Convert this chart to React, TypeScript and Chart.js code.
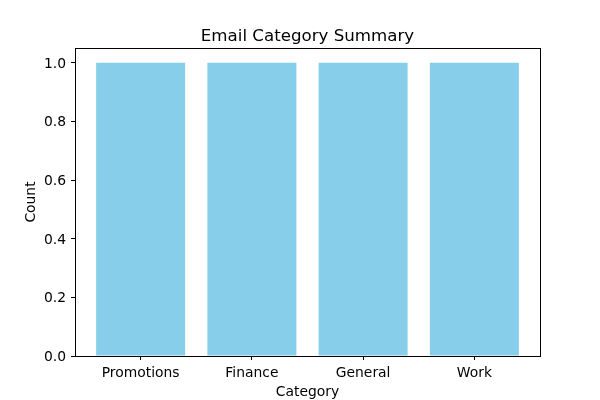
import React, { useEffect, useRef } from "react";
import { Chart, registerables } from "chart.js";

Chart.register(...registerables);

const categories = ["Promotions", "Finance", "General", "Work"];
const counts = [1, 1, 1, 1];
const yTicks = [0, 0.2, 0.4, 0.6, 0.8, 1.0];

const FONT = "'DejaVu Sans', sans-serif";

const framePlugin = {
  id: "frame",
  afterDraw(chart: any) {
    const { ctx, chartArea } = chart;
    const { left, top, right, bottom } = chartArea;
    ctx.save();
    ctx.strokeStyle = "#000";
    ctx.lineWidth = 1;
    ctx.strokeRect(Math.round(left) + 0.5, Math.round(top) + 0.5, Math.round(right - left), Math.round(bottom - top));
    ctx.fillStyle = "#000";
    ctx.textAlign = "center";
    ctx.textBaseline = "alphabetic";
    ctx.font = `16.67px ${FONT}`;
    ctx.fillText("Email Category Summary", (left + right) / 2, 40.5);
    ctx.font = `13.89px ${FONT}`;
    ctx.fillText("Category", (left + right) / 2, 395.5);
    ctx.translate(34.5, (top + bottom) / 2);
    ctx.rotate(-Math.PI / 2);
    ctx.fillText("Count", 0, 0);
    ctx.restore();
  },
};

export default function App() {
  const ref = useRef<HTMLCanvasElement>(null);
  useEffect(() => {
    document.body.style.margin = "0";
    const chart = new Chart(ref.current!, {
      type: "bar",
      data: {
        datasets: [
          {
            data: counts.map((v, i) => ({ x: i, y: v })),
            backgroundColor: "#87CEEB",
            borderWidth: 0,
            inflateAmount: 0,
            barPercentage: 0.8,
            categoryPercentage: 1,
          },
        ],
      },
      options: {
        animation: false,
        responsive: false,
        layout: { padding: { left: 0, top: 48, right: 60, bottom: 0 } },
        plugins: { legend: { display: false }, tooltip: { enabled: false }, title: { display: false } },
        scales: {
          x: {
            type: "linear",
            min: -0.59,
            max: 3.59,
            offset: false,
            afterBuildTicks: (s: any) => {
              s.ticks = categories.map((_, i) => ({ value: i }));
            },
            afterFit: (s: any) => {
              s.height = 44;
            },
            ticks: {
              autoSkip: false,
              maxRotation: 0,
              padding: 5,
              color: "#000",
              font: { family: FONT, size: 13.89 },
              callback: (v: any) => categories[v as number] ?? "",
            },
            grid: { display: true, offset: false, drawOnChartArea: false, tickLength: 4, color: "#000" },
            border: { display: true, color: "#000" },
          },
          y: {
            min: 0,
            max: 1.05,
            afterBuildTicks: (s: any) => {
              s.ticks = yTicks.map((v) => ({ value: v }));
            },
            afterFit: (s: any) => {
              s.width = 75;
            },
            ticks: {
              padding: 5,
              labelOffset: 1.5,
              color: "#000",
              font: { family: FONT, size: 13.89 },
              callback: (v: any) => Number(v).toFixed(1),
            },
            grid: { display: true, drawOnChartArea: false, tickLength: 4, color: "#000" },
            border: { display: true, color: "#000" },
          },
        },
      },
      plugins: [framePlugin],
    });
    return () => chart.destroy();
  }, []);
  return <canvas ref={ref} width={600} height={400} style={{ display: "block" }} />;
}
